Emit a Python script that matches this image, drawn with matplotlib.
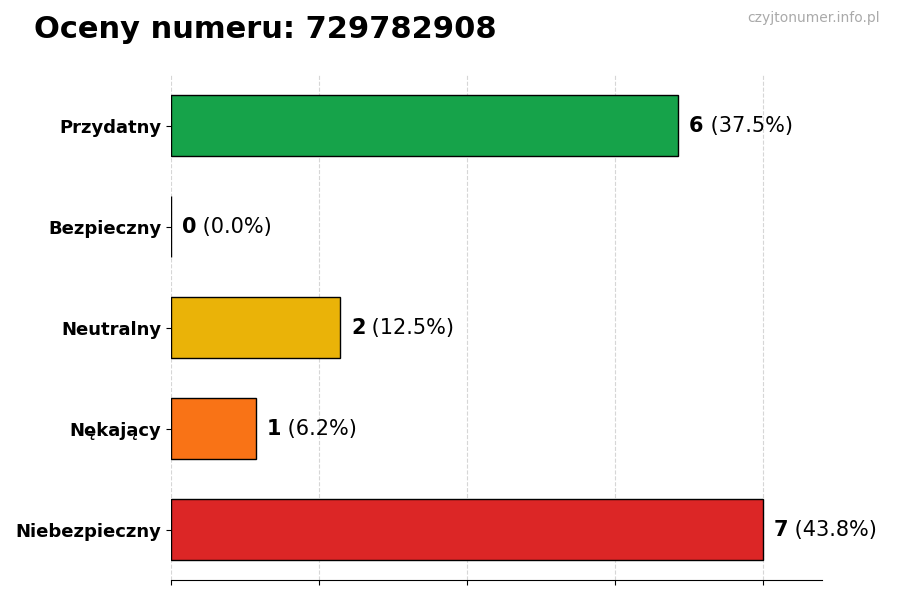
import numpy as np
import matplotlib
matplotlib.use("Agg")
import matplotlib.pyplot as plt

categories = ["Przydatny", "Bezpieczny", "Neutralny", "Nękający", "Niebezpieczny"]
counts = [6, 0, 2, 1, 7]
percents = ["37.5%", "0.0%", "12.5%", "6.2%", "43.8%"]
colors = ["#16a34a", "#9ca3af", "#eab308", "#f97316", "#dc2626"]

fig = plt.figure(figsize=(9, 6), dpi=100)
ax = fig.add_axes([0.19, 0.033, 0.723, 0.842])

y = np.arange(len(categories))[::-1]
ax.barh(y, counts, height=0.6, color=colors, edgecolor="black", linewidth=1)

xmax = max(counts) * 1.1
ax.set_xlim(0, xmax)
ax.set_ylim(-0.5, len(categories) - 0.5)
ax.set_xticks(np.linspace(0, max(counts), 5))
ax.set_xticklabels([])
ax.set_yticks(y)
ax.set_yticklabels(categories, fontsize=13, fontweight="bold")
ax.grid(axis="x", linestyle="--", color="#cccccc", alpha=0.8)
ax.set_axisbelow(True)
for s in ["top", "right", "left"]:
    ax.spines[s].set_visible(False)

for yi, c, p in zip(y, counts, percents):
    x0 = c + 0.13
    t = ax.text(x0, yi, f"{c}", fontsize=15, fontweight="bold", va="center")
    fig.canvas.draw()
    bb = t.get_window_extent().transformed(ax.transData.inverted())
    ax.text(bb.x1, yi, f" ({p})", fontsize=15, va="center")

fig.text(0.038, 0.95, "Oceny numeru: 729782908", fontsize=22, fontweight="bold", va="center")
fig.text(0.978, 0.97, "czyjtonumer.info.pl", fontsize=10, color="#aaaaaa", ha="right", va="center")

fig.savefig("out.png")
